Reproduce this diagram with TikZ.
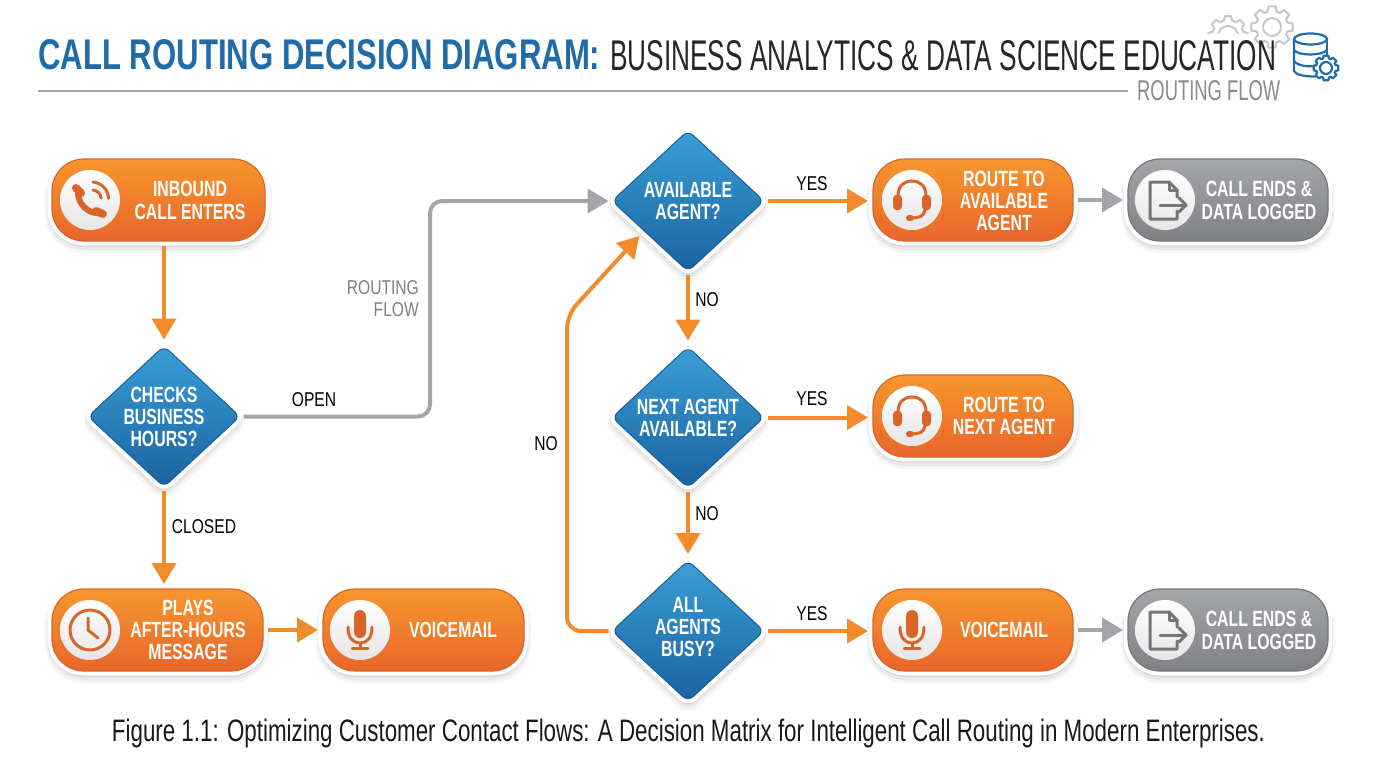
\documentclass[tikz,border=0pt]{standalone}
\usepackage{fontspec}
\setmainfont{Liberation Sans}
\newfontfamily\condf[FakeStretch=0.78]{Liberation Sans}
\newfontfamily\narrowf[FakeStretch=0.72]{Liberation Sans}
\usetikzlibrary{arrows.meta,shapes.geometric,calc}
\definecolor{orA}{HTML}{F7962D}
\definecolor{orB}{HTML}{E8662A}
\definecolor{orE}{HTML}{D9652A}
\definecolor{orL}{HTML}{F28C2B}
\definecolor{grA}{HTML}{A4A6A9}
\definecolor{grB}{HTML}{7F8185}
\definecolor{grE}{HTML}{74767A}
\definecolor{grL}{HTML}{A3A5A8}
\definecolor{grI}{HTML}{73757A}
\definecolor{blA}{HTML}{3A9FD6}
\definecolor{blB}{HTML}{1A62A0}
\definecolor{blE}{HTML}{1A5F98}
\definecolor{ttl}{HTML}{1F6CA8}
\definecolor{gearc}{HTML}{C3C8CD}
\tikzset{
  softshadow/.style={
    preaction={draw=black,fill=black,draw opacity=.04,fill opacity=.04,line width=14pt,transform canvas={yshift=-5pt}},
    preaction={draw=black,fill=black,draw opacity=.05,fill opacity=.05,line width=10pt,transform canvas={yshift=-4pt}},
    preaction={draw=black,fill=black,draw opacity=.06,fill opacity=.06,line width=6pt,transform canvas={yshift=-3pt}},
    preaction={draw=white,line width=9pt,line join=round}},
  pillbase/.style={rectangle,softshadow,minimum height=82pt,rounded corners=32pt,inner sep=0pt,outer sep=5pt,line width=1.2pt},
  orpill/.style={pillbase,top color=orA,bottom color=orB,draw=orE},
  grpill/.style={pillbase,top color=grA,bottom color=grB,draw=grE},
  decision/.style={diamond,softshadow,minimum width=154pt,minimum height=143pt,aspect=1.07,inner sep=0pt,outer sep=2.5pt,
    rounded corners=7pt,top color=blA,bottom color=blB,draw=blE,line width=1pt,
    text=white,align=center,font=\narrowf\bfseries\fontsize{22}{22}\selectfont},
  pilltext/.style={text=white,align=center,inner sep=0pt,font=\narrowf\bfseries\fontsize{22}{22.3}\selectfont},
  iconbg/.style={circle,minimum size=60pt,inner sep=0pt,top color=white,bottom color=black!10},
  edgelabel/.style={text=black,inner sep=0pt,font=\condf\fontsize{20}{22}\selectfont},
  orflow/.style={draw=orL,line width=4pt,-{Triangle[length=21pt,width=24pt]}},
  grflow/.style={draw=grL,line width=4pt,-{Triangle[length=21pt,width=24pt]}},
  oricon/.style={draw=orE,line width=3pt,line cap=round,line join=round},
  gricon/.style={draw=grI,line width=3pt,line cap=round,line join=round},
  gearline/.style={line width=2pt,line join=round},
}
% local-coordinate icons
\newcommand{\iconphone}[1]{\begin{scope}[shift={(#1)}]
  \draw[orE,line width=6pt,line cap=round] (-12,-6) .. controls (-11,4) and (-3,12) .. (6,13);
  \draw[orE,line width=8pt,line cap=round] (-14,-12) -- (-9,-7);
  \draw[orE,line width=8pt,line cap=round] (6,11) -- (13,14);
  \draw[oricon] (3,-10) arc[start angle=-85,end angle=-5,radius=9];
  \draw[oricon] (3,-18) arc[start angle=-85,end angle=-2,radius=17];
\end{scope}}
\newcommand{\iconclock}[1]{\begin{scope}[shift={(#1)}]
  \draw[oricon] (0,0) circle[radius=20];
  \draw[oricon] (-2,-12) -- (-2,0) -- (8,8);
\end{scope}}
\newcommand{\iconmic}[1]{\begin{scope}[shift={(#1)}]
  \fill[orE,rounded corners=6pt] (-6,-20) rectangle (6,8);
  \draw[oricon] (-12,-3) .. controls (-12,8) and (-7,13) .. (0,13) .. controls (7,13) and (12,8) .. (12,-3);
  \draw[oricon] (0,13) -- (0,18);
  \draw[oricon] (-8,18) -- (8,18);
\end{scope}}
\newcommand{\iconhead}[1]{\begin{scope}[shift={(#1)}]
  \draw[oricon] (-14,-4) .. controls (-14,-14) and (-8,-19) .. (0,-19) .. controls (8,-19) and (14,-14) .. (14,-4);
  \fill[orE,rounded corners=3.5pt] (-19,-5) rectangle (-10,10);
  \fill[orE,rounded corners=3.5pt] (10,-5) rectangle (19,10);
  \draw[oricon] (13,10) .. controls (12,16) and (8,18) .. (-1,18);
  \draw[orE,line width=6pt,line cap=round] (-3,18) -- (-1,18);
\end{scope}}
\newcommand{\icondoc}[1]{\begin{scope}[shift={(#1)}]
  \draw[gricon] (12,-3) -- (12,-10) -- (4,-18) -- (-15,-18) -- (-15,19) -- (12,19) -- (12,11);
  \draw[gricon] (4,-18) -- (4,-10) -- (12,-10);
  \draw[gricon] (-5,5) -- (21,5);
  \draw[gricon] (14,-2) -- (21,5) -- (14,12);
\end{scope}}
% #1 style, #2 centre, #3 outer radius, #4 root radius, #5 teeth, #6 half-width at tip, #7 half-width at root
\newcommand{\drawgear}[7]{\draw[#1] ([shift={(#2)}]{#7}:#4) \foreach \gi in {1,...,#5}{
    -- ([shift={(#2)}]{\gi*360/#5-#7}:#4) -- ([shift={(#2)}]{\gi*360/#5-#6}:#3) -- ([shift={(#2)}]{\gi*360/#5+#6}:#3) -- ([shift={(#2)}]{\gi*360/#5+#7}:#4)
  } -- cycle;}
\begin{document}
\begin{tikzpicture}[x=1pt,y=-1pt]
\useasboundingbox (0,0) rectangle (1376,768);
\fill[white] (0,0) rectangle (1376,768);

% header
\begin{scope}
  \clip (1195,0) rectangle (1300,34);
  \drawgear{gearc,gearline}{1228,36}{20}{16}{8}{9}{15}
  \draw[gearc,gearline] (1228,36) circle[radius=10];
\end{scope}
\begin{scope}
  \clip (1240,0) rectangle (1300,50);
  \drawgear{gearc,gearline}{1272,27}{21}{16}{8}{10}{16}
  \draw[gearc,gearline] (1272,27) circle[radius=9];
\end{scope}
\node[anchor=west,inner sep=0pt,text=ttl] (title) at (38,55) {\resizebox{562pt}{30pt}{\bfseries CALL ROUTING DECISION DIAGRAM:}};
\node[anchor=west,inner sep=0pt,text=black!85] (subtitle) at (610,56) {\resizebox{666pt}{30pt}{BUSINESS ANALYTICS \& DATA SCIENCE EDUCATION}};
\draw[black!35,line width=1.6pt] (38,91) -- (1128,91);
\node[anchor=west,inner sep=0pt,text=black!45] (rflow) at (1137,91) {\resizebox{143pt}{20pt}{ROUTING FLOW}};
% database icon
\begin{scope}[ttl,line width=2.2pt]
  \draw (1294,39) -- (1294,71) .. controls (1296,75) and (1304,76.5) .. (1316,76.5);
  \draw (1327,39) -- (1327,56);
  \draw (1310.5,39) ellipse[x radius=16.5,y radius=5.5];
  \draw (1294,50) .. controls (1298,56) and (1322,56) .. (1327,50);
  \draw (1294,61) .. controls (1298,66) and (1308,67) .. (1315,66);
  \fill[white] (1326,68) circle[radius=13];
  \drawgear{ttl,line width=2.2pt,line join=round}{1326,68}{12.5}{10}{8}{11}{17}
  \draw (1326,68) circle[radius=6];
\end{scope}

% nodes
\node[orpill,minimum width=213pt] (inbound) at (158.5,200) {};
\node[decision] (checks) at (164,416.5) {CHECKS\\BUSINESS\\HOURS?};
\node[orpill,minimum width=211pt] (after) at (157.5,630) {};
\node[orpill,minimum width=201pt] (vmA) at (423.5,630) {};
\node[decision] (avail) at (688,201) {AVAILABLE\\AGENT?};
\node[decision] (next) at (688,417.5) {NEXT AGENT\\AVAILABLE?};
\node[decision,text depth=8pt] (busy) at (688,631) {ALL\\AGENTS\\BUSY?};
\node[orpill,minimum width=200pt] (route) at (973,200) {};
\node[orpill,minimum width=200pt] (routeN) at (973,416) {};
\node[orpill,minimum width=200pt] (vmB) at (973,630) {};
\node[grpill,minimum width=200pt] (endA) at (1228,200) {};
\node[grpill,minimum width=200pt] (endB) at (1228,630) {};

% icon discs and icons
\node[iconbg] (dInbound) at (90,200) {};   \iconphone{90,200}
\node[iconbg] (dAfter) at (90,630) {};     \iconclock{90,630}
\node[iconbg] (dVmA) at (360,630) {};      \iconmic{360,630}
\node[iconbg] (dRoute) at (912,200) {};    \iconhead{912,200}
\node[iconbg] (dRouteN) at (912,416) {};   \iconhead{912,416}
\node[iconbg] (dVmB) at (912,630) {};      \iconmic{912,630}
\node[iconbg] (dEndA) at (1165,200) {};    \icondoc{1165,200}
\node[iconbg] (dEndB) at (1165,630) {};    \icondoc{1165,630}

% pill texts
\node[pilltext] (tInbound) at (190,200.5) {INBOUND\\CALL ENTERS};
\node[pilltext] (tAfter) at (188,630) {PLAYS\\AFTER-HOURS\\MESSAGE};
\node[pilltext] (tVmA) at (453,630) {VOICEMAIL};
\node[pilltext] (tRoute) at (1004,201) {ROUTE TO\\AVAILABLE\\AGENT};
\node[pilltext] (tRouteN) at (1004,416) {ROUTE TO\\NEXT AGENT};
\node[pilltext] (tVmB) at (1004,630) {VOICEMAIL};
\node[pilltext] (tEndA) at (1259,200.5) {CALL ENDS \&\\DATA LOGGED};
\node[pilltext] (tEndB) at (1259,630.5) {CALL ENDS \&\\DATA LOGGED};

% connectors
\coordinate (bendA) at (430,300);
\coordinate (bendB) at (567,450);
\draw[orflow] (checks.north |- inbound.south) -- ([shift={(0,-3)}]checks.north);
\draw[orflow] (checks.south) -- (checks.south |- after.north);
\draw[orflow] (after.east) -- (vmA.west);
\draw[grflow,rounded corners=12pt] (checks.east) -- (bendA |- checks.east) -- (bendA |- avail.west) -- (avail.west);
\draw[orflow] (avail.east) -- (avail.east -| route.west);
\draw[grflow] (route.east) -- (endA.west);
\draw[orflow] (avail.south) -- ([shift={(0,-3)}]next.north);
\draw[orflow] (next.east) -- (next.east -| routeN.west);
\draw[orflow] (next.south) -- ([shift={(0,-3)}]busy.north);
\draw[orflow] (busy.east) -- (busy.east -| vmB.west);
\draw[grflow] (vmB.east) -- (endB.west);
\draw[orflow,rounded corners=14pt] (busy.west) -- (bendB |- busy.west) -- (567,315) -- ([shift={(-9,-2)}]avail.south west);

% connector labels
\node[edgelabel] (lYesA) at (812,184) {YES};
\node[edgelabel] (lNoA) at (707,300) {NO};
\node[edgelabel] (lYesB) at (812,399) {YES};
\node[edgelabel] (lNoB) at (707,514) {NO};
\node[edgelabel] (lYesC) at (812,614) {YES};
\node[edgelabel] (lOpen) at (314,399.5) {OPEN};
\node[edgelabel] (lClosed) at (204,526.5) {CLOSED};
\node[edgelabel] (lNoC) at (546,444) {NO};
\node[edgelabel,text=black!50,align=right,anchor=east] (lFlow) at (419,299) {ROUTING\\FLOW};

% caption
\node[inner sep=0pt,text=black!90] (caption) at (688.5,733) {\resizebox{1153pt}{!}{\fontsize{25}{30}\selectfont\narrowf Figure 1.1: Optimizing Customer Contact Flows: A Decision Matrix for Intelligent Call Routing in Modern Enterprises.}};
\end{tikzpicture}
\end{document}
